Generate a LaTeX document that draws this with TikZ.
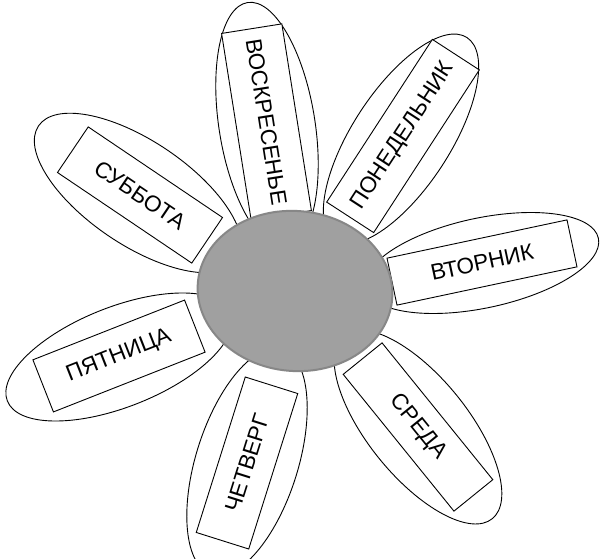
\documentclass[tikz,border=0pt]{standalone}
\usepackage{fontspec}
\setmainfont{Liberation Sans}
\usetikzlibrary{shapes.geometric}
\tikzset{
  petal/.style={ellipse, draw=black, line width=0.9pt, fill=white, inner sep=0pt},
  daybox/.style={rectangle, draw=black, line width=0.9pt, fill=white, inner sep=0pt,
    font=\fontsize{22.5}{27}\selectfont},
  core/.style={ellipse, fill=corefill, draw=coreedge, line width=2pt, inner sep=0pt}
}
\definecolor{corefill}{RGB}{160,160,160}
\definecolor{coreedge}{RGB}{135,135,135}
\begin{document}
\begin{tikzpicture}[x=1pt,y=-1pt]
\useasboundingbox (0,0) rectangle (600,559);
\clip (0,0) rectangle (600,559);
\fill[white] (0,0) rectangle (600,559);
% petals
\node[petal, minimum width=248, minimum height=96, rotate=-81] (e1) at (267,125) {};
\node[petal, minimum width=242, minimum height=98, rotate=57] (e2) at (401,139) {};
\node[petal, minimum width=238, minimum height=90, rotate=12] (e3) at (482,263) {};
\node[petal, minimum width=236, minimum height=100, rotate=-51] (e4) at (418,427) {};
\node[petal, minimum width=236, minimum height=102, rotate=72.5] (e5) at (247,462) {};
\node[petal, minimum width=240, minimum height=100, rotate=21.5] (e6) at (119,357) {};
\node[petal, minimum width=240, minimum height=104, rotate=-34] (e7) at (138,193) {};
% boxes
\node[daybox, minimum width=189, minimum height=61, rotate=-81] (b1) at (266.5,122) {ВОСКРЕСЕНЬЕ};
\node[daybox, minimum width=194, minimum height=56, rotate=57] (b2) at (403,136) {ПОНЕДЕЛЬНИК};
\node[daybox, minimum width=184, minimum height=48, rotate=12] (b3) at (482,262.5) {ВТОРНИК};
\node[daybox, minimum width=176, minimum height=50, rotate=-51] (b4) at (418,427) {СРЕДА};
\node[daybox, minimum width=163, minimum height=55, rotate=72.5] (b5) at (247,463) {ЧЕТВЕРГ};
\node[daybox, minimum width=163, minimum height=56, rotate=21.5] (b6) at (119,356) {ПЯТНИЦА};
\node[daybox, minimum width=162, minimum height=55, rotate=-34] (b7) at (140,195) {СУББОТА};
% centre
\node[core, minimum width=195, minimum height=160, rotate=-5] (c) at (295,291) {};
\end{tikzpicture}
\end{document}
